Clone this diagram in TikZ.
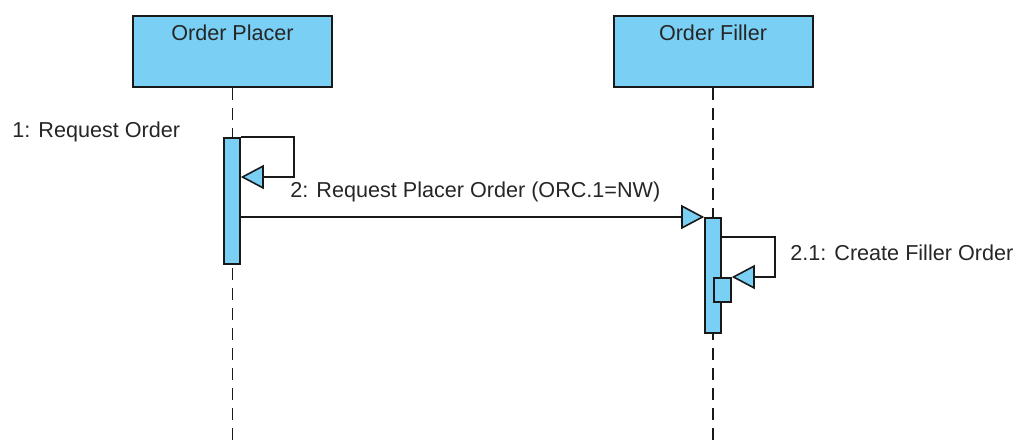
\documentclass[tikz,border=0pt]{standalone}
\usepackage{fontspec}
\setmainfont{Liberation Sans}
\usepackage{tikz}
\usetikzlibrary{arrows.meta,positioning}
\definecolor{lifeblue}{RGB}{122,207,245}

\begin{document}
\begin{tikzpicture}[
  x=0.5pt, y=-0.5pt,
  font=\fontsize{10.8}{13}\selectfont,
  lifebox/.style={draw=black!90, fill=lifeblue, line width=1pt,
                  minimum width=99.5pt, minimum height=35.5pt, inner sep=0pt},
  act/.style={draw=black!90, fill=lifeblue, line width=0.8pt,
              minimum width=8pt, inner sep=0pt, anchor=north},
  lifeline/.style={black!90, line width=0.8pt, dash pattern=on 6pt off 4pt},
  msg/.style={black!90, line width=0.8pt,
              -{Triangle[length=11.5pt, width=12pt, fill=lifeblue]}},
  lbl/.style={text=black!85, inner sep=0pt}
]
\useasboundingbox (0,0) rectangle (1018,446);
% lifelines
\node[lifebox] (placer) at (232.5,51.5) {};
\node[lbl, below=4.5pt of placer.north] (placername) {Order Placer};
\node[lifebox] (filler) at (713,51.5) {};
\node[lbl, below=4.5pt of filler.north] (fillername) {Order Filler};
\coordinate (placerend) at (232.5,446);
\coordinate (fillerend) at (713,446);
\draw[lifeline] (placer.south) -- (placerend);
\draw[lifeline] (filler.south) -- (fillerend);
% activations
\node[act, minimum height=63pt] (pa) at (232,137) {};
\node[act, minimum height=57.5pt] (fa) at (713,217) {};
\node[act, minimum height=12pt, minimum width=8.5pt] (sa) at (722.5,277) {};
% messages
\draw[msg] (pa.north east) -- ++(53,0) -- ++(0,40) -- ++(-53,0);
\draw[msg] (pa.east |- fa.north) -- (fa.north west);
\draw[msg] ([yshift=-10pt]fa.north east) -- ++(53,0) |- (sa.north east);
% labels
\node[lbl, anchor=west] (m1) at (12,132) {1: Request Order};
\node[lbl, anchor=west] (m2) at (290,192) {2: Request Placer Order (ORC.1=NW)};
\node[lbl, anchor=west] (m21) at (790,253) {2.1: Create Filler Order};
\end{tikzpicture}
\end{document}
